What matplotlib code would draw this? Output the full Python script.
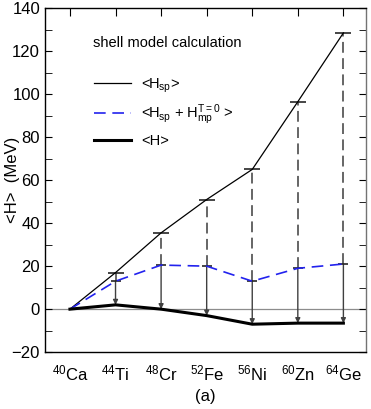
import matplotlib.pyplot as plt
import numpy as np

# ============================================================
# DATA
# ============================================================

nuclei = [r'$^{40}$Ca', r'$^{44}$Ti', r'$^{48}$Cr', r'$^{52}$Fe',
          r'$^{56}$Ni', r'$^{60}$Zn', r'$^{64}$Ge']
h_sp = [0, 17, 35.5, 51, 65, 96.5, 128.5]
h_sp_mp = [0, 13, 20.5, 20, 13, 19, 21]
h_tot = [0, 2, 0, -3, -7, -6.5, -6.5]

x = np.arange(len(nuclei))

# ============================================================
# FIGURE
# ============================================================

plt.rcParams['font.family'] = ['Liberation Sans', 'DejaVu Sans']
plt.rcParams['mathtext.fontset'] = 'custom'
plt.rcParams['mathtext.rm'] = 'Liberation Sans'
plt.rcParams['mathtext.it'] = 'Liberation Sans'

fig = plt.figure(figsize=(3.71, 4.09), dpi=100)
ax = fig.add_axes([0.121, 0.139, 0.866, 0.841])

ax.axhline(0, color='0.55', lw=0.9, zorder=1)

# vertical connectors
for i in x[1:]:
    ax.vlines(x[i], h_sp_mp[i], h_sp[i], colors='0.35', lw=1.3,
              linestyles=(0, (6, 3)), zorder=2)
    ax.annotate('', xy=(x[i], h_tot[i]), xytext=(x[i], h_sp_mp[i]),
                arrowprops=dict(arrowstyle='-|>', color='0.25', lw=1.0,
                                mutation_scale=7, shrinkA=0, shrinkB=0),
                zorder=2)

ax.plot(x[1:], h_sp[1:], ls='none', marker='_', ms=11, mew=1.2, color='0.15')
ax.plot(x[1:], h_sp_mp[1:], ls='none', marker='_', ms=7, mew=1.2, color='0.15')

l1, = ax.plot(x, h_sp, color='black', lw=0.9, zorder=3)
l2, = ax.plot(x, h_sp_mp, color='#2222ee', lw=1.2, dashes=(7, 4), zorder=3)
l3, = ax.plot(x, h_tot, color='black', lw=2.2, zorder=3)

ax.set_xlim(-0.55, 6.5)
ax.set_ylim(-20, 140)
ax.set_yticks(np.arange(-20, 141, 20))
ax.set_yticks(np.arange(-20, 141, 10), minor=True)
ax.set_yticklabels(['\u221220'] + [str(v) for v in range(0, 141, 20)])
ax.set_xticks(x)
ax.set_xticklabels(nuclei)
ax.tick_params(axis='y', which='both', direction='in', right=True,
               labelsize=12, length=5)
ax.tick_params(axis='x', direction='in', top=True, bottom=False,
               labelsize=12, length=6, pad=8)
for s in ax.spines.values():
    s.set_linewidth(1.0)
ax.spines['right'].set_color('0.45')

ax.set_ylabel('<H>  (MeV)', fontsize=12)
ax.yaxis.set_label_coords(-0.078, 0.5)
ax.set_xlabel('(a)', fontsize=12, labelpad=4)

ax.text(0.149, 0.898, 'shell model calculation', transform=ax.transAxes,
        fontsize=10.5, va='center', ha='left')
ax.legend([l1, l2, l3],
          [r'<H$_{\rm sp}$>', r'<H$_{\rm sp}$ + H$_{\rm mp}^{\rm T=0}$ >', '<H>'],
          loc='upper left', bbox_to_anchor=(0.113, 0.84), frameon=False,
          fontsize=10.5, handlelength=2.5, handletextpad=0.7, labelspacing=0.52)

plt.savefig('out.png', dpi=100)
